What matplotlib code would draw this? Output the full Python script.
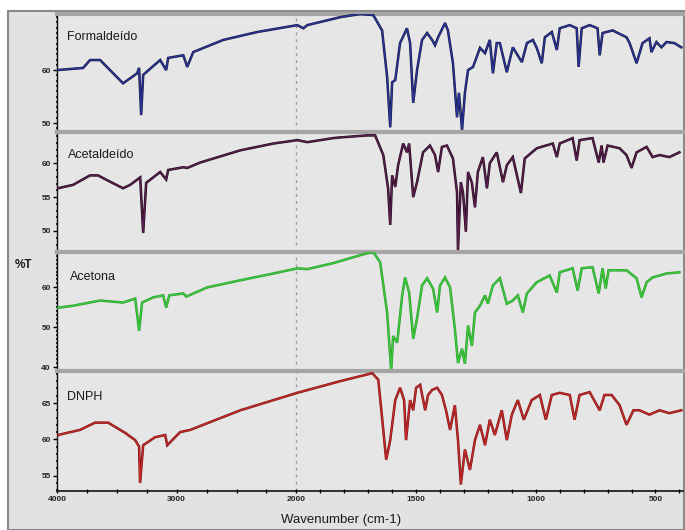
import numpy as np
import matplotlib
matplotlib.use("Agg")
import matplotlib.pyplot as plt
import matplotlib.patheffects as pe
from matplotlib.patches import Rectangle
from matplotlib.ticker import MultipleLocator, FixedLocator

# ---------------- data (wavenumber cm-1, %T) ----------------
form_wn = [4000, 3782, 3724, 3640, 3448, 3330, 3314, 3297, 3280, 3138, 3088, 3071, 2945, 2912, 2862,
           2611, 2326, 1996, 1971, 1954, 1817, 1733, 1679, 1642, 1621, 1608, 1600, 1587, 1567, 1538,
           1525, 1512, 1496, 1475, 1454, 1433, 1421, 1408, 1379, 1367, 1346, 1329, 1321, 1308, 1296,
           1283, 1262, 1233, 1212, 1192, 1179, 1163, 1150, 1121, 1096, 1058, 1037, 1012, 996, 975,
           962, 933, 912, 900, 858, 829, 821, 808, 775, 742, 733, 721, 679, 621, 608, 579, 554, 525,
           517, 496, 475, 454, 421, 392]
form_t = [60.0, 60.4, 61.9, 61.9, 57.5, 59.4, 60.4, 51.5, 59.1, 61.9, 60.0, 62.3, 62.8, 60.6, 63.4,
          65.7, 67.2, 68.5, 67.9, 68.5, 70.0, 70.6, 70.4, 67.5, 58.7, 49.2, 57.7, 58.1, 65.1, 67.9,
          65.1, 53.8, 60.0, 65.7, 67.0, 65.7, 64.7, 66.2, 68.9, 67.5, 61.3, 51.1, 55.7, 48.7, 55.7,
          60.0, 60.6, 64.2, 63.2, 65.7, 59.4, 65.1, 65.1, 59.6, 64.3, 61.5, 65.1, 65.7, 64.2, 61.3,
          66.2, 67.2, 63.8, 67.9, 68.5, 67.9, 60.6, 67.9, 68.5, 67.9, 62.8, 67.0, 67.5, 66.2, 65.1,
          61.3, 65.1, 66.0, 63.4, 65.3, 64.3, 65.3, 65.1, 64.3]

acet_wn = [3992, 3866, 3724, 3657, 3582, 3448, 3389, 3305, 3280, 3255, 3138, 3088, 3071, 2945, 2912,
           2803, 2468, 2192, 1996, 1954, 1846, 1817, 1704, 1671, 1637, 1617, 1608, 1600, 1587, 1575,
           1554, 1538, 1529, 1512, 1496, 1471, 1442, 1421, 1408, 1392, 1371, 1346, 1329, 1325, 1313,
           1304, 1292, 1283, 1267, 1254, 1242, 1221, 1204, 1192, 1163, 1137, 1121, 1096, 1062, 1046,
           996, 929, 912, 900, 846, 829, 817, 763, 737, 725, 717, 700, 650, 621, 600, 579, 537, 512,
           483, 442, 400]
acet_t = [56.3, 56.8, 58.2, 58.2, 57.5, 56.3, 56.8, 57.9, 49.7, 57.1, 58.7, 57.6, 59.0, 59.4, 59.3,
          60.1, 61.9, 62.9, 63.4, 63.1, 63.7, 63.8, 64.1, 64.1, 61.2, 56.3, 50.9, 58.2, 56.5, 59.7,
          62.9, 61.6, 62.9, 55.0, 57.2, 61.6, 62.6, 61.2, 58.7, 62.4, 62.6, 60.7, 55.7, 47.2, 57.2,
          55.7, 49.9, 58.7, 57.1, 53.5, 58.7, 60.9, 56.3, 60.0, 61.6, 57.2, 59.7, 60.9, 55.6, 60.7,
          62.2, 62.9, 60.9, 62.9, 63.7, 60.4, 63.4, 63.7, 60.1, 62.6, 60.1, 62.6, 62.2, 61.2, 59.3,
          61.6, 62.4, 60.9, 61.2, 60.9, 61.6]

acot_wn = [3992, 3866, 3640, 3448, 3347, 3314, 3289, 3196, 3113, 3088, 3062, 2945, 2920, 2745, 2468,
           2192, 1996, 1954, 1846, 1733, 1704, 1679, 1650, 1621, 1604, 1596, 1579, 1558, 1546, 1529,
           1512, 1496, 1475, 1454, 1429, 1412, 1400, 1379, 1358, 1338, 1325, 1308, 1296, 1283, 1267,
           1254, 1233, 1212, 1200, 1179, 1150, 1121, 1096, 1075, 1054, 1037, 996, 942, 912, 900, 846,
           825, 808, 763, 737, 721, 708, 696, 621, 579, 558, 537, 512, 454, 400]
acot_t = [54.9, 55.4, 56.7, 56.2, 57.2, 49.1, 56.2, 57.5, 58.0, 54.9, 58.0, 58.5, 57.7, 60.0, 61.8,
          63.5, 64.8, 64.6, 66.1, 68.1, 68.6, 68.9, 66.3, 53.7, 39.0, 47.8, 46.1, 58.0, 62.5, 58.7,
          47.1, 52.2, 60.5, 62.3, 59.7, 53.7, 60.5, 62.5, 60.0, 49.6, 41.0, 44.6, 40.8, 50.4, 45.3,
          53.7, 55.4, 58.0, 55.9, 60.5, 62.3, 55.9, 56.7, 58.0, 53.7, 58.5, 61.3, 63.0, 58.7, 63.8,
          64.8, 59.2, 64.8, 65.1, 58.5, 64.8, 59.7, 64.3, 64.3, 62.3, 57.5, 61.3, 62.5, 63.5, 63.8]

dnph_wn = [3992, 3808, 3682, 3573, 3431, 3347, 3314, 3306, 3280, 3180, 3096, 3079, 2971, 2887, 2468,
           1996, 1817, 1683, 1658, 1637, 1625, 1608, 1587, 1567, 1550, 1542, 1525, 1512, 1500, 1483,
           1462, 1450, 1433, 1412, 1392, 1375, 1358, 1338, 1325, 1313, 1296, 1275, 1254, 1233, 1212,
           1192, 1171, 1142, 1121, 1100, 1075, 1050, 1017, 983, 958, 933, 900, 858, 838, 817, 775,
           733, 713, 683, 650, 621, 592, 567, 525, 483, 442, 392]
dnph_t = [60.6, 61.3, 62.3, 62.3, 60.9, 59.9, 59.0, 54.0, 59.2, 60.3, 60.6, 59.2, 61.0, 61.3, 64.0,
          66.4, 68.0, 69.1, 68.2, 61.3, 57.2, 59.9, 65.4, 67.1, 65.4, 59.9, 65.4, 64.0, 67.1, 67.5,
          64.0, 66.1, 66.8, 67.1, 66.1, 64.0, 61.3, 64.7, 59.9, 53.8, 58.6, 55.8, 59.9, 62.0, 59.2,
          62.7, 60.6, 64.0, 59.9, 63.4, 65.4, 62.7, 65.4, 66.1, 62.7, 66.1, 66.4, 66.1, 62.7, 66.1,
          66.5, 64.0, 66.1, 66.1, 64.7, 62.0, 64.0, 64.0, 63.4, 64.0, 63.6, 64.0]

names = ["Formaldeído", "Acetaldeído", "Acetona", "DNPH"]
y_ticks = [[50, 60], [50, 55, 60], [40, 50, 60], [55, 60, 65]]
y_lims = [(48.3, 70.6), (46.9, 64.6), (39.0, 68.9), (52.9, 69.4)]
x_ticks = [4000, 3000, 2000, 1500, 1000, 500]
x_ticklabels = ["4000", "3000", "2000", "1500", "1000", "500"]

series = [(form_wn, form_t), (acet_wn, acet_t), (acot_wn, acot_t), (dnph_wn, dnph_t)]
colors = ["#2a3597", "#5a1d4e", "#3cc83c", "#c42a2a"]
edges = ["#14163e", "#1c0a18", "#2c9a2c", "#7a1212"]

# ---------------- figure ----------------
W, H = 685, 530
fig = plt.figure(figsize=(W / 100, H / 100), dpi=100, facecolor="white")
fig.patches.append(Rectangle((8 / W, 0), (W - 9) / W, 1 - 11 / H, transform=fig.transFigure,
                             facecolor="#e2e2e2", edgecolor="#8a8a8a", lw=1.5, zorder=-10))

font = ["Liberation Sans", "DejaVu Sans"]

def fwd(x):
    x = np.asarray(x, dtype=float)
    return np.where(x > 2000, 2000 + (x - 2000) / 2.0, x)

def inv(t):
    t = np.asarray(t, dtype=float)
    return np.where(t > 2000, 2000 + (t - 2000) * 2.0, t)

panels = [(14, 132), (132, 252), (252, 371), (371, 491)]
left, right = 57, 683
axes = []
for i, (top, bot) in enumerate(panels):
    ax = fig.add_axes([left / W, 1 - bot / H, (right - left) / W, (bot - top) / H])
    ax.set_zorder(1)
    ax.set_facecolor("#e6e6e6")
    ax.set_xscale("function", functions=(fwd, inv))
    ax.set_xlim(4000, 385)
    ax.set_ylim(*y_lims[i])
    wn, t = series[i]
    ax.plot(wn, t, color=colors[i], lw=1.0, solid_joinstyle="miter",
            path_effects=[pe.Stroke(linewidth=1.8, foreground=edges[i]), pe.Normal()], zorder=3)
    ax.axvline(2000, color="#9a9a9a", lw=1.0, ls=(0, (2, 3)), zorder=1)
    ax.spines["right"].set_visible(False)
    ax.spines["top"].set_color("#a5a5a5")
    ax.spines["top"].set_linewidth(3)
    ax.spines["left"].set_color("#111111")
    ax.spines["left"].set_linewidth(1.0)
    if i < 3:
        ax.spines["bottom"].set_visible(False)
        ax.tick_params(axis="x", which="both", bottom=False, labelbottom=False)
    else:
        ax.spines["bottom"].set_color("#111111")
        ax.spines["bottom"].set_linewidth(1.2)
        ax.xaxis.set_major_locator(FixedLocator(x_ticks))
        minors = list(range(4000, 2000, -250)) + list(range(2000, 380, -100))
        ax.xaxis.set_minor_locator(FixedLocator(minors))
        ax.set_xticklabels(x_ticklabels, fontsize=6, fontweight="bold", color="#222222", family=font)
        ax.tick_params(axis="x", which="major", length=3, width=1, direction="inout", pad=2)
        ax.tick_params(axis="x", which="minor", length=2.5, width=1, direction="inout")
    ax.yaxis.set_major_locator(FixedLocator(y_ticks[i]))
    ax.yaxis.set_minor_locator(MultipleLocator(1))
    ax.set_yticklabels([str(v) for v in y_ticks[i]], fontsize=6, fontweight="bold",
                       color="#222222", family=font)
    ax.tick_params(axis="y", which="major", length=3, width=1, direction="out", pad=1.5)
    ax.tick_params(axis="y", which="minor", length=2, width=1.2, direction="inout")
    axes.append(ax)

label_pos = [(67, 37), (68, 155), (70, 277), (67, 397)]
for name, (x, y) in zip(names, label_pos):
    fig.text(x / W, 1 - y / H, name, fontsize=9, color="#1a1a1a", family=font,
             ha="left", va="center", zorder=5)

fig.text(15 / W, 1 - 265 / H, "%T", fontsize=8.5, fontweight="bold", color="#1a1a1a",
         family=font, ha="left", va="center")
fig.text(341 / W, 1 - 520 / H, "Wavenumber (cm-1)", fontsize=9.5, color="#1a1a1a",
         family=font, ha="center", va="center")

fig.savefig("out.png", dpi=100, facecolor="white")
